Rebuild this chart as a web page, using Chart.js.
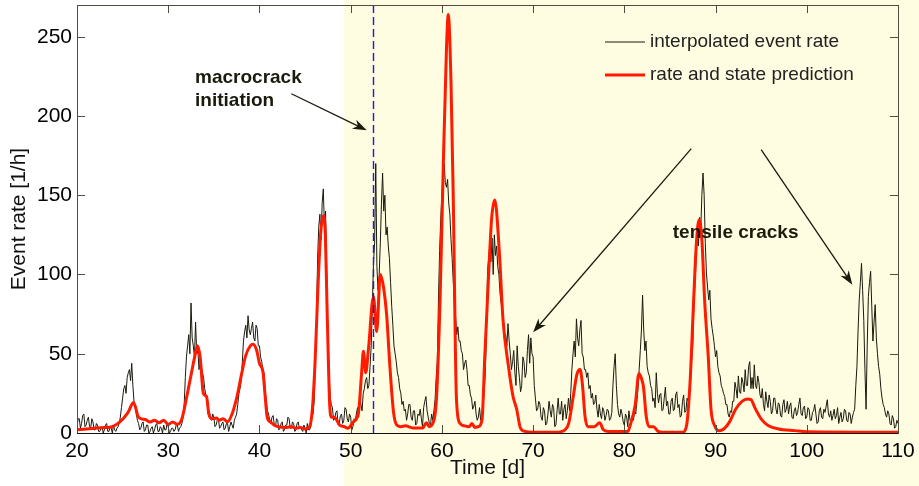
<!DOCTYPE html>
<html>
<head>
<meta charset="utf-8">
<script src="https://cdn.jsdelivr.net/npm/chart.js@4.4.1/dist/chart.umd.min.js"></script>
<style>
html, body { margin: 0; padding: 0; background: #fff; }
canvas { display: block; }
</style>
</head>
<body>
<canvas id="chart" width="919" height="486"></canvas>
<script>
// interpolated event rate, one value every 0.125 d from day 20 (one row per day)
const rateStart = 20;
const rateStep = 0.125;
const eventRate = [
  4, 9, 9, 3, 6, 11, 12, 4,
  5, 8, 10, 4, 3, 9, 7, 2,
  2, 6, 5, 1, 1, 3, 4, 0,
  2, 5, 6, 1, 1, 4, 3, 0,
  5, 2, 1, 3, 4, 6, 10, 16,
  22, 28, 30, 25, 35, 38, 40, 33,
  44, 30, 20, 16, 12, 8, 6, 2,
  3, 6, 7, 1, 2, 5, 5, 0,
  1, 3, 4, 0, 2, 5, 6, 1,
  1, 4, 3, 0, 5, 2, 2, 6,
  4, 0, 1, 3, 3, 1, 2, 5,
  5, 1, 3, 4, 6, 10, 18, 35,
  48, 55, 62, 50, 82, 60, 55, 48,
  70, 50, 52, 40, 45, 42, 38, 35,
  28, 24, 20, 12, 14, 10, 8, 12,
  10, 4, 5, 8, 9, 3, 4, 6,
  7, 2, 3, 6, 6, 1, 4, 7,
  5, 3, 8, 10, 12, 18, 25, 28,
  33, 45, 58, 64, 68, 60, 74, 65,
  62, 66, 70, 60, 58, 68, 66, 55,
  55, 48, 45, 40, 38, 28, 20, 14,
  12, 8, 6, 10, 11, 5, 4, 9,
  8, 2, 3, 6, 7, 1, 2, 5,
  5, 10, 9, 3, 3, 7, 6, 1,
  2, 6, 7, 3, 4, 2, 1, 5,
  3, 0, 6, 2, 2, 4, 10, 12,
  20, 45, 70, 110, 130, 138, 122, 145,
  154, 130, 140, 100, 60, 40, 23, 18,
  16, 8, 9, 13, 14, 5, 6, 11,
  12, 6, 8, 16, 15, 9, 7, 12,
  10, 2, 4, 9, 8, 12, 16, 10,
  22, 18, 14, 25, 28, 33, 35, 28,
  30, 42, 55, 80, 107, 120, 170, 105,
  90, 100, 120, 145, 164, 140, 150, 125,
  130, 118, 110, 95, 80, 68, 55, 50,
  45, 38, 35, 28, 25, 18, 20, 14,
  15, 8, 12, 18, 18, 10, 8, 14,
  14, 5, 6, 12, 11, 15, 9, 4,
  16, 20, 23, 14, 10, 6, 5, 12,
  8, 14, 21, 35, 45, 84, 115, 135,
  150, 162, 170, 158, 155, 160, 145, 138,
  122, 110, 95, 80, 74, 62, 67, 58,
  58, 52, 50, 40, 44, 46, 40, 30,
  30, 24, 22, 15, 17, 20, 12, 8,
  10, 16, 8, 12, 18, 25, 37, 60,
  102, 110, 118, 108, 123, 100, 125, 112,
  118, 105, 100, 88, 82, 76, 70, 62,
  62, 55, 69, 58, 50, 40, 45, 52,
  38, 30, 55, 42, 35, 26, 30, 48,
  45, 35, 38, 52, 62, 44, 60, 50,
  48, 30, 22, 14, 15, 20, 18, 10,
  8, 16, 14, 5, 6, 12, 20, 14,
  10, 18, 16, 4, 5, 14, 22, 12,
  12, 20, 8, 15, 18, 9, 14, 22,
  14, 25, 40, 50, 58, 48, 72, 60,
  55, 65, 71, 50, 48, 40, 40, 35,
  38, 28, 30, 22, 25, 18, 19, 24,
  15, 10, 18, 12, 9, 16, 14, 8,
  11, 15, 14, 8, 9, 13, 30, 42,
  50, 30, 18, 12, 10, 15, 12, 7,
  5, 12, 10, 4, 14, 8, 6, 11,
  8, 14, 12, 20, 28, 40, 52, 65,
  87, 65, 52, 58, 42, 38, 36, 30,
  28, 20, 22, 16, 38, 25, 19, 24,
  25, 14, 15, 22, 29, 17, 20, 12,
  12, 20, 22, 14, 15, 24, 26, 16,
  18, 10, 11, 20, 24, 13, 14, 22,
  20, 25, 32, 45, 55, 80, 95, 110,
  125, 118, 136, 128, 150, 164, 150, 120,
  101, 92, 84, 90, 72, 66, 61, 55,
  48, 52, 42, 38, 36, 30, 28, 25,
  23, 18, 18, 12, 10, 14, 13, 20,
  20, 32, 28, 22, 36, 26, 25, 35,
  32, 26, 40, 30, 30, 42, 45, 28,
  35, 28, 43, 30, 28, 36, 32, 24,
  22, 28, 18, 14, 26, 20, 16, 24,
  20, 12, 14, 22, 22, 15, 12, 19,
  18, 11, 10, 18, 21, 13, 15, 20,
  12, 17, 19, 10, 9, 14, 16, 11,
  13, 18, 22, 12, 11, 16, 17, 9,
  10, 16, 15, 8, 8, 13, 14, 18,
  12, 6, 7, 14, 16, 10, 9, 15,
  13, 17, 21, 12, 10, 14, 8, 11,
  15, 9, 11, 16, 6, 10, 13, 7,
  9, 15, 14, 8, 7, 13, 12, 6,
  10, 13, 15, 30, 42, 65, 84, 95,
  107, 90, 71, 40, 15, 55, 86, 95,
  102, 80, 58, 70, 81, 60, 50, 42,
  37, 28, 22, 18, 16, 12, 10, 14,
  12, 6, 5, 11, 9, 3, 4, 8,
  6
];

// rate and state prediction
const predTime = [
  20, 21, 22, 23, 23.6, 24.7, 25.6, 26.2, 26.7, 27, 27.5, 28, 28.5, 29, 29.5, 30, 30.5, 31, 31.5,
  32, 32.55, 32.9, 33.2, 33.5, 33.85, 34.2, 34.45, 34.8, 35.3, 35.6, 36, 36.5,
  37, 37.5, 38, 38.5, 39, 39.3, 39.7, 40, 40.4, 40.6, 40.85, 41.2, 41.6,
  42, 43, 43.5, 44, 44.5, 45, 45.5, 45.8, 46.1, 46.4, 46.7, 47, 47.2, 47.45, 47.7,
  47.9, 48.2, 48.8, 49.3, 49.7, 50.3, 50.85, 51.2, 51.4, 51.65, 51.95, 52.5, 52.85,
  53.25, 53.6, 53.95, 54.3, 54.7, 55.05, 55.5, 56, 56.8, 57.9, 58.3, 58.6, 59, 59.4,
  59.8, 60.15, 60.5, 60.7, 61, 61.25, 61.6, 62, 62.5, 63, 63.3, 63.6, 64, 64.4,
  64.7, 65.1, 65.45, 65.8, 66.3, 66.7, 67.3, 67.8, 68.2, 68.6, 69.1, 70, 72.5,
  73.5, 73.9, 74.4, 74.8, 75.15, 75.4, 75.7, 76, 76.7, 77.3, 77.7, 78.2, 80.4,
  80.6, 81.2, 81.6, 81.9, 82.1, 82.4, 82.7, 83.2, 83.7, 84.2, 86.4, 86.8,
  87.2, 87.6, 87.9, 88.2, 88.5, 88.8, 89.2, 89.5, 89.9, 90.4, 90.9, 91.5,
  92.2, 92.9, 93.5, 93.9, 94.3, 95.06, 95.8, 96.9, 98.7, 100, 110
];
const predRate = [
  2, 2.5, 3, 3.4, 3.6, 7, 13, 19.3, 10.5, 9, 8.5, 7, 8, 6.5, 8, 5.5, 7, 5.5, 9,
  22, 38, 48, 55, 48, 25, 23, 12, 9, 9.5, 8, 9, 7,
  12, 22, 36, 49, 55, 56, 52, 44, 38, 25, 10, 7, 5,
  4, 3.5, 4, 3, 3.5, 2.5, 4, 15, 45, 90, 125, 137, 128, 70, 18,
  10, 10, 5, 4, 3, 7, 12.6, 38, 51.5, 38, 53, 86, 64,
  100, 92, 74, 42, 13, 5, 4, 4.5, 3.2, 3.2, 6.5, 4, 6, 21,
  84, 168, 242, 264, 221, 147, 21, 6, 4.5, 4, 6, 3.5, 4, 8.4,
  48, 97, 135, 147, 114, 71.5, 42, 23, 15, 3.3, 1, 0.5, 0.5,
  2, 6, 23, 37, 40, 31, 10, 4, 4, 6.5, 2, 1, 1,
  4, 18, 37.5, 34, 29, 10.5, 4, 4, 1, 0.5, 0.5, 4,
  31.5, 84, 120, 134.6, 122, 84, 48, 15, 4.6, 1.4, 2.5, 6.7,
  15, 20, 21.5, 21, 16, 8.4, 4.6, 2.5, 1.5, 0.8, 0.5
];

const xTicks = [20, 30, 40, 50, 60, 70, 80, 90, 100, 110];
const yTicks = [0, 50, 100, 150, 200, 250];

const loadingFrom = 49.3;      // start of shaded period [d]
const macrocrackDay = 52.5;    // macrocrack initiation [d]

const fontFamily = "'Liberation Sans', Arial, Helvetica, sans-serif";
const inkColor = '#1a1a0d';
const frameColor = '#4d4d40';

function drawArrow(ctx, x1, y1, x2, y2) {
    const a = Math.atan2(y2 - y1, x2 - x1);
    const len = 14, half = 5;
    const c = Math.cos(a), s = Math.sin(a);
    ctx.beginPath();
    ctx.moveTo(x1, y1);
    ctx.lineTo(x2 - c * len * 0.6, y2 - s * len * 0.6);
    ctx.stroke();
    ctx.beginPath();
    ctx.moveTo(x2, y2);
    ctx.lineTo(x2 - c * len + s * half, y2 - s * len - c * half);
    ctx.lineTo(x2 - c * len * 0.7, y2 - s * len * 0.7);
    ctx.lineTo(x2 - c * len - s * half, y2 - s * len + c * half);
    ctx.closePath();
    ctx.fill();
}

const decor = {
    id: 'decor',
    beforeDraw(chart) {
        const { ctx, scales: { x } } = chart;
        const x0 = x.getPixelForValue(loadingFrom);
        ctx.save();
        ctx.fillStyle = '#fffde1';
        ctx.fillRect(x0, 0, chart.width - x0, chart.height);
        ctx.restore();
    },
    afterDatasetsDraw(chart) {
        const { ctx, chartArea: a, scales: { x } } = chart;
        const px = Math.round(x.getPixelForValue(macrocrackDay)) + 0.5;
        ctx.save();
        ctx.strokeStyle = '#1c1cd0';
        ctx.lineWidth = 1.4;
        ctx.setLineDash([8, 4]);
        ctx.beginPath();
        ctx.moveTo(px, a.top);
        ctx.lineTo(px, a.bottom);
        ctx.stroke();
        ctx.restore();
    },
    afterDraw(chart) {
        const { ctx, chartArea: a, scales: { x, y } } = chart;
        ctx.save();

        // frame + inward ticks
        ctx.strokeStyle = frameColor;
        ctx.lineWidth = 1;
        ctx.strokeRect(Math.round(a.left) + 0.5, Math.round(a.top) + 0.5,
            Math.round(a.right - a.left), Math.round(a.bottom - a.top));
        ctx.beginPath();
        xTicks.forEach(v => {
            const px = Math.round(x.getPixelForValue(v)) + 0.5;
            ctx.moveTo(px, a.bottom); ctx.lineTo(px, a.bottom - 8);
            ctx.moveTo(px, a.top); ctx.lineTo(px, a.top + 8);
        });
        yTicks.forEach(v => {
            const py = Math.round(y.getPixelForValue(v)) + 0.5;
            ctx.moveTo(a.left, py); ctx.lineTo(a.left + 8, py);
            ctx.moveTo(a.right, py); ctx.lineTo(a.right - 8, py);
        });
        ctx.stroke();
        ctx.strokeStyle = '#111';
        ctx.beginPath();
        ctx.moveTo(a.left, Math.round(a.bottom) + 0.5);
        ctx.lineTo(a.right, Math.round(a.bottom) + 0.5);
        ctx.stroke();

        // legend
        ctx.font = '19px ' + fontFamily;
        ctx.textBaseline = 'middle';
        ctx.textAlign = 'left';
        chart.data.datasets.forEach((ds, i) => {
            const ly = 42 + i * 33;
            ctx.strokeStyle = ds.borderColor;
            ctx.lineWidth = ds.borderWidth;
            ctx.beginPath();
            ctx.moveTo(605, ly);
            ctx.lineTo(645, ly);
            ctx.stroke();
            ctx.fillStyle = '#222';
            ctx.fillText(ds.label, 650, ly);
        });

        // annotations
        ctx.fillStyle = inkColor;
        ctx.strokeStyle = inkColor;
        ctx.lineWidth = 1.3;
        ctx.font = 'bold 19px ' + fontFamily;
        ctx.textBaseline = 'alphabetic';
        ctx.fillText('macrocrack', x.getPixelForValue(32.94), y.getPixelForValue(221));
        ctx.fillText('initiation', x.getPixelForValue(32.94), y.getPixelForValue(206.5));
        drawArrow(ctx, x.getPixelForValue(43.5), y.getPixelForValue(214),
            x.getPixelForValue(51.76), y.getPixelForValue(191));

        ctx.textAlign = 'center';
        ctx.fillText('tensile cracks', x.getPixelForValue(92.2), y.getPixelForValue(123.2));
        drawArrow(ctx, x.getPixelForValue(87.34), y.getPixelForValue(179.4),
            x.getPixelForValue(70), y.getPixelForValue(63.5));
        drawArrow(ctx, x.getPixelForValue(95.0), y.getPixelForValue(178.7),
            x.getPixelForValue(105.0), y.getPixelForValue(93.6));

        ctx.restore();
    }
};

const ctx = document.getElementById('chart').getContext('2d');

const chart = new Chart(ctx, {
    type: 'line',
    data: {
        datasets: [
            {
                label: 'interpolated event rate',
                data: eventRate.map((v, i) => ({ x: rateStart + i * rateStep, y: v })),
                borderColor: '#1a1a0d',
                borderWidth: 1,
                pointRadius: 0,
                tension: 0,
                order: 2,
            },
            {
                label: 'rate and state prediction',
                data: predTime.map((t, i) => ({ x: t, y: predRate[i] })),
                borderColor: '#ff1a00',
                borderWidth: 3,
                pointRadius: 0,
                cubicInterpolationMode: 'monotone',
                order: 1,
            },
        ],
    },
    options: {
        responsive: false,
        animation: false,
        devicePixelRatio: 1,
        layout: { padding: { left: 0, right: 21, top: 5, bottom: 0 } },
        plugins: {
            legend: { display: false },
            tooltip: { enabled: false },
        },
        scales: {
            x: {
                type: 'linear',
                min: 20,
                max: 110,
                afterBuildTicks: (s) => { s.ticks = xTicks.map(v => ({ value: v })); },
                afterFit: (s) => { s.height = 53; s.paddingLeft = 0; s.paddingRight = 0; },
                grid: { display: false, drawTicks: false },
                border: { display: false },
                ticks: {
                    padding: 6,
                    maxRotation: 0,
                    autoSkip: false,
                    color: '#000',
                    font: { family: fontFamily, size: 21 },
                },
                title: {
                    display: true,
                    text: 'Time [d]',
                    color: '#111',
                    font: { family: fontFamily, size: 21 },
                    padding: { top: 0, bottom: 5 },
                },
            },
            y: {
                type: 'linear',
                min: 0,
                max: 270,
                afterBuildTicks: (s) => { s.ticks = yTicks.map(v => ({ value: v })); },
                afterFit: (s) => { s.width = 77; s.paddingTop = 0; s.paddingBottom = 0; },
                grid: { display: false, drawTicks: false },
                border: { display: false },
                ticks: {
                    padding: 5,
                    autoSkip: false,
                    color: '#000',
                    font: { family: fontFamily, size: 21 },
                },
                title: {
                    display: true,
                    text: 'Event rate [1/h]',
                    color: '#111',
                    font: { family: fontFamily, size: 21 },
                    padding: { top: 7, bottom: 0 },
                },
            },
        },
    },
    plugins: [decor],
});
</script>
</body>
</html>
